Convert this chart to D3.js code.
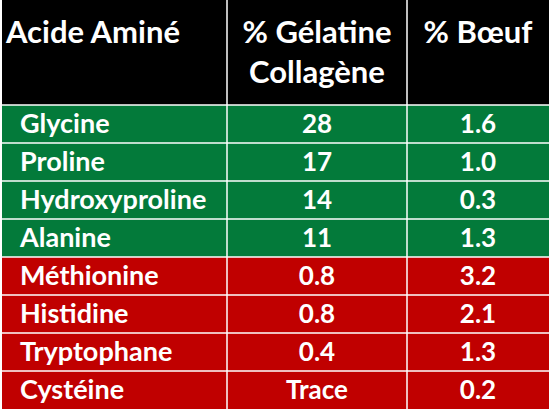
<!DOCTYPE html><html><head><meta charset="utf-8"><script src="https://cdn.jsdelivr.net/npm/d3@7"></script>
<style>body{margin:0;background:#fff}</style></head><body><svg id="c" width="550" height="414"></svg>
<script>
const headers=[["Acide Aminé"],["% Gélatine","Collagène"],["% Bœuf"]];
const acids=["Glycine","Proline","Hydroxyproline","Alanine","Méthionine","Histidine","Tryptophane","Cystéine"];
const gelatine=["28","17","14","11","0.8","0.8","0.4","Trace"];
const boeuf=["1.6","1.0","0.3","1.3","3.2","2.1","1.3","0.2"];
const groups=["high","high","high","high","low","low","low","low"];
const svg=d3.select("#c");
const colEdges=[2,227,407,549];
const y=d3.scaleBand().domain(d3.range(acids.length)).range([105,409]);
const color=d3.scaleOrdinal().domain(["high","low"]).range(["#037A3A","#C00000"]);
const font="Lato, 'Open Sans', sans-serif";
svg.append("rect").attr("x",colEdges[0]).attr("y",0).attr("width",colEdges[3]-colEdges[0]).attr("height",105).attr("fill","#000");
headers.forEach((h,i)=>{h.forEach((t,j)=>{
 const cx=i==0?colEdges[0]+4:(colEdges[i]+colEdges[i+1])/2;
 svg.append("text").attr("x",cx).attr("y",43+j*40).attr("text-anchor",i==0?"start":"middle")
 .attr("fill","#fff").attr("font-family",font).attr("font-weight","bold")
 .attr("font-size",31).attr("textLength",i==0?null:null).text(t);});});
acids.forEach((a,r)=>{
 svg.append("rect").attr("x",colEdges[0]).attr("y",y(r)).attr("width",colEdges[3]-colEdges[0]).attr("height",y.bandwidth()).attr("fill",color(groups[r]));
 [a,gelatine[r],boeuf[r]].forEach((t,i)=>{
  const cx=i==0?colEdges[0]+18:(colEdges[i]+colEdges[i+1])/2;
  svg.append("text").attr("x",cx).attr("y",y(r)+y.bandwidth()/2+9).attr("text-anchor",i==0?"start":"middle")
  .attr("fill","#fff").attr("font-family",font).attr("font-weight","bold").attr("font-size",i==0?27:26).text(t);});
});
const g=svg.append("g").attr("stroke","#fff").attr("stroke-width",1.5);
d3.range(acids.length).forEach(r=>g.append("line").attr("x1",colEdges[0]).attr("x2",colEdges[3]).attr("y1",y(r)).attr("y2",y(r)));
[colEdges[1],colEdges[2]].forEach(x=>g.append("line").attr("x1",x).attr("x2",x).attr("y1",0).attr("y2",409));
</script></body></html>
